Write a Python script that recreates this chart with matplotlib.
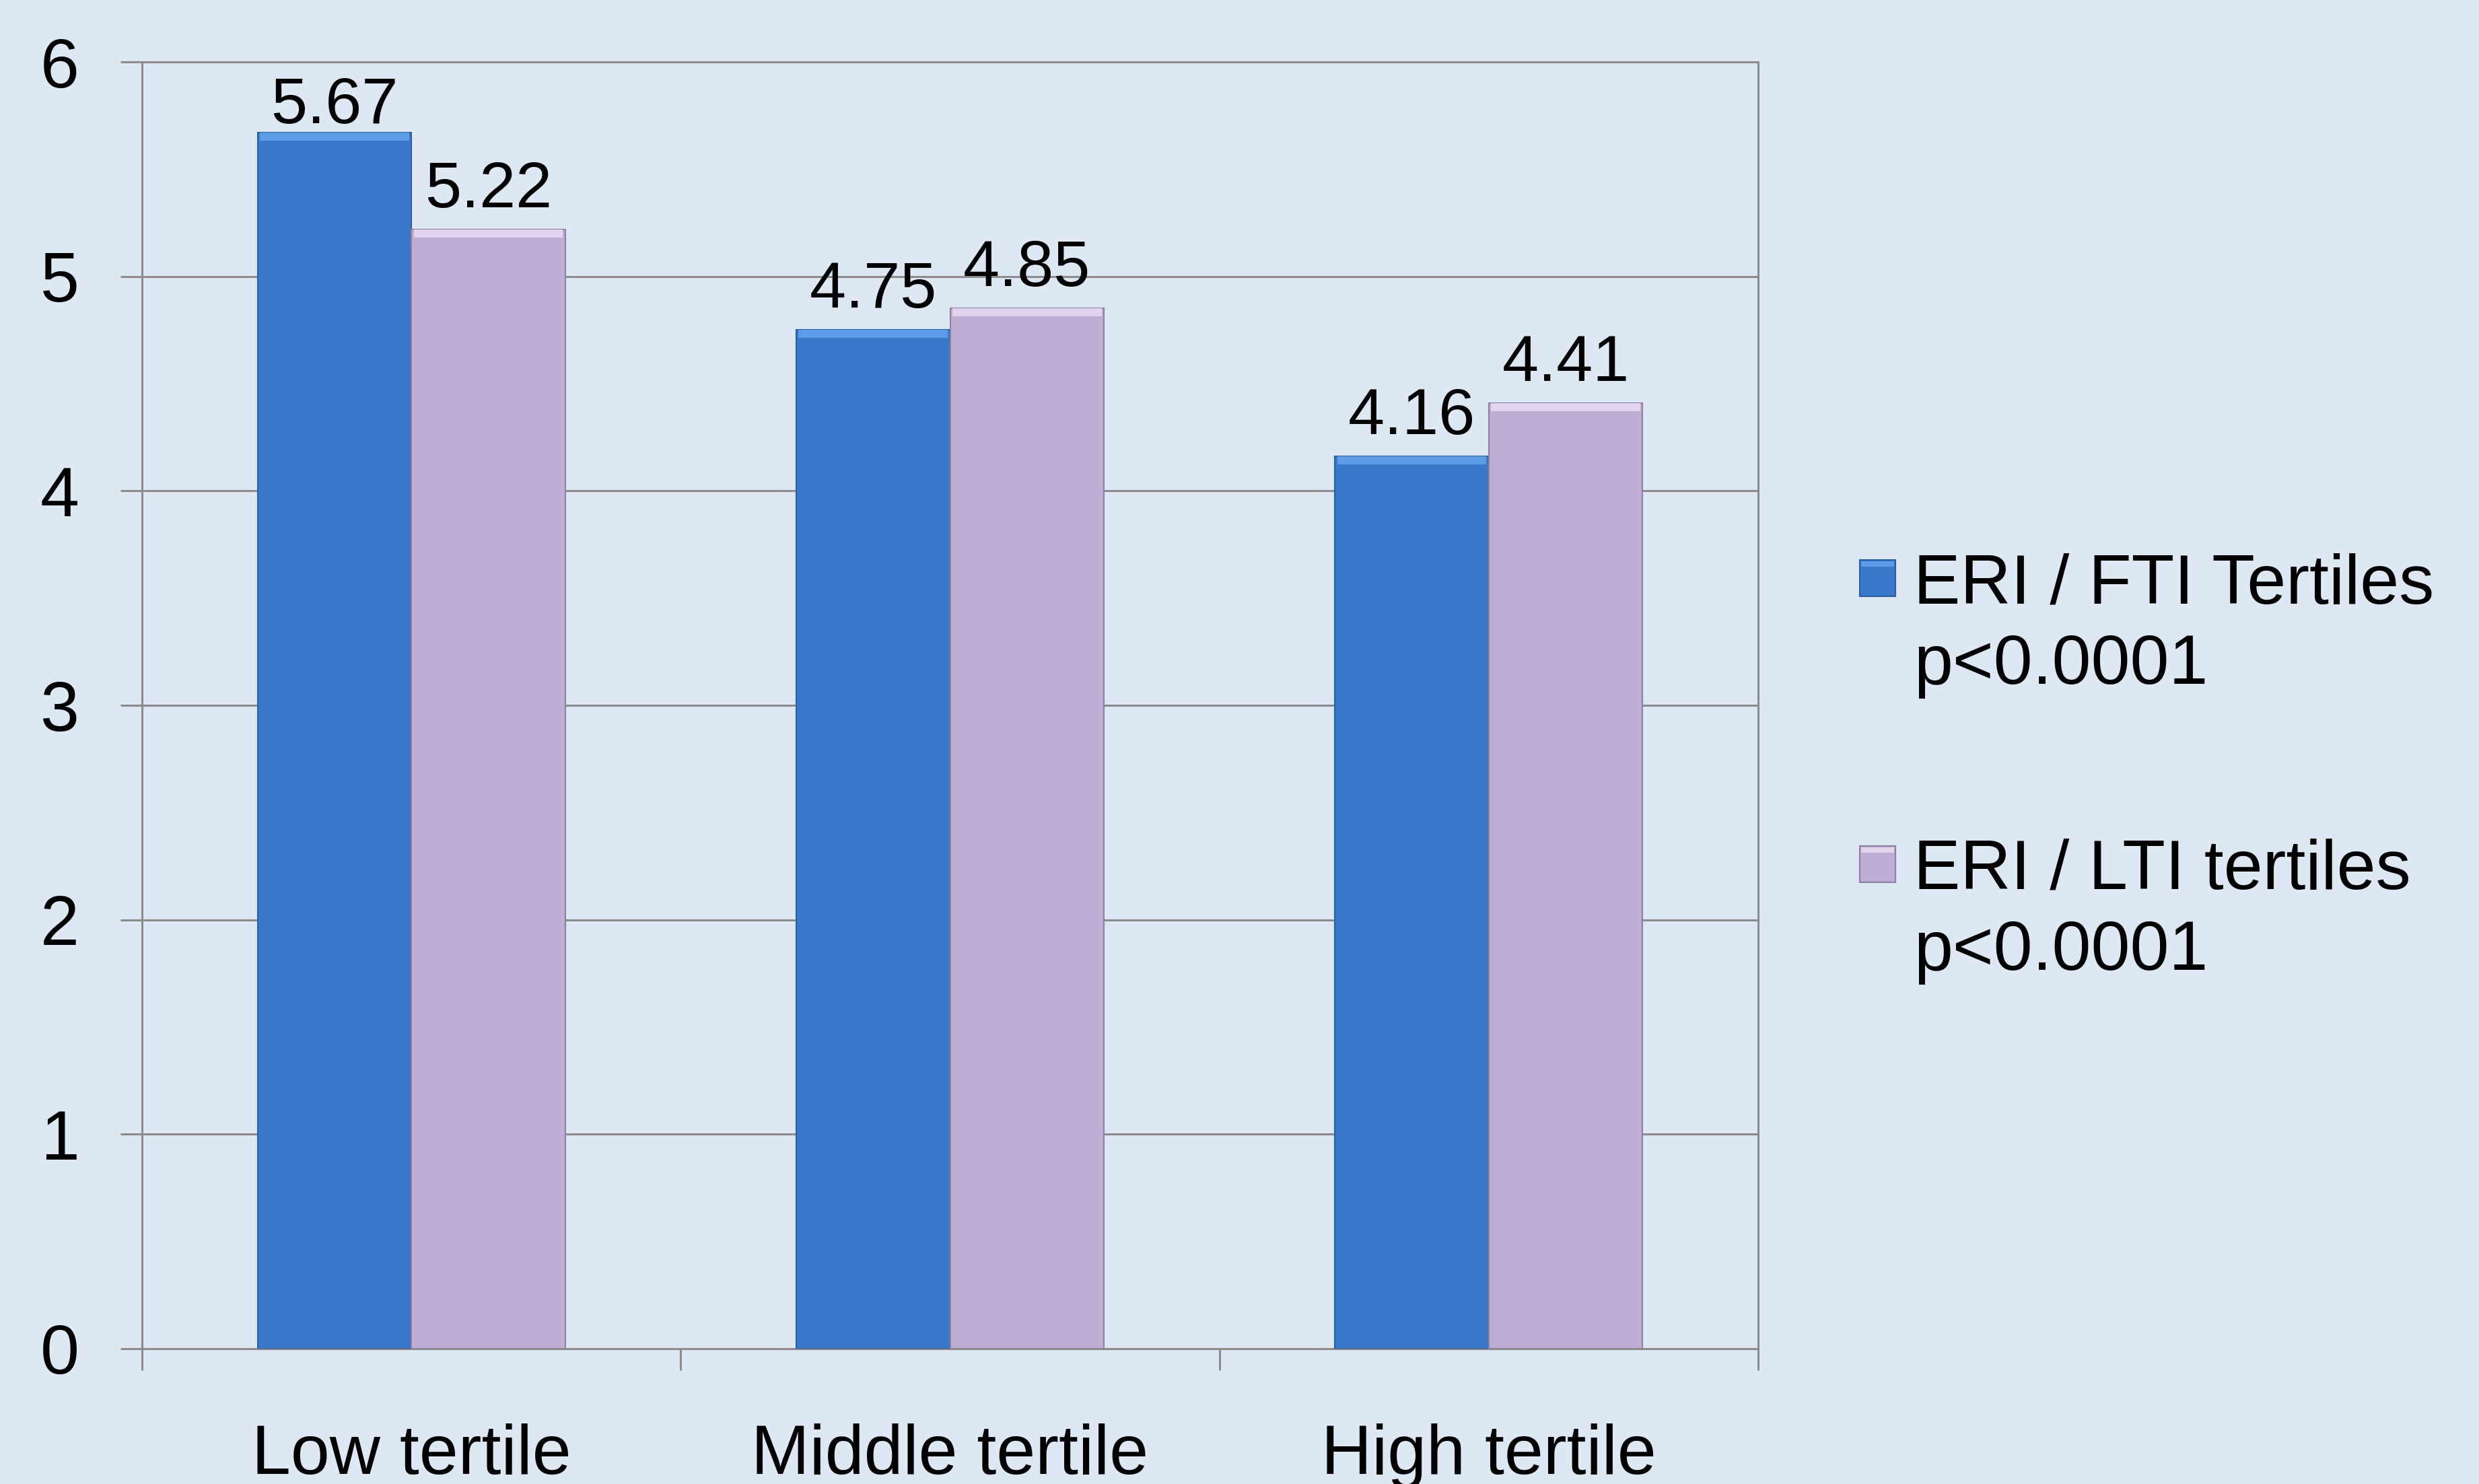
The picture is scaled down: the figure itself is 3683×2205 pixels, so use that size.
"""
Grouped bar chart: ERI / FTI vs ERI / LTI tertiles.
"""

import matplotlib
matplotlib.use("Agg")
import matplotlib.pyplot as plt
import matplotlib.patches as patches
import numpy as np

# Data
categories = ["Low tertile", "Middle tertile", "High tertile"]
fti_values = [5.67, 4.75, 4.16]
lti_values = [5.22, 4.85, 4.41]
series_labels = [("ERI / FTI Tertiles", "p<0.0001"), ("ERI / LTI tertiles", "p<0.0001")]
y_ticks = [0, 1, 2, 3, 4, 5, 6]

# Colours
BG_COLOR = "#dde8f4"
BLUE = "#3a78cb"
BLUE_EDGE = "#2d5e9e"
BLUE_HI = "#5d9be6"
PURPLE = "#beaed3"
PURPLE_EDGE = "#8f7fa3"
PURPLE_HI = "#e2d4ee"
GRID = "#8c8c8c"
FONT = "Liberation Sans"

W, H = 3683, 2205
DPI = 100

plt.rcParams["font.family"] = [FONT, "DejaVu Sans"]

fig = plt.figure(figsize=(W / DPI, H / DPI), dpi=DPI)
fig.patch.set_facecolor(BG_COLOR)
ax = fig.add_axes([211 / W, 1 - 2004 / H, (2612 - 211) / W, (2004 - 92) / H])
ax.set_facecolor(BG_COLOR)

ymax = 6
ax.set_xlim(-0.5, len(categories) - 0.5)
ax.set_ylim(0, ymax)
px_per_unit = (2004 - 92) / ymax

x = np.arange(len(categories))
bw = 1 / 3.5  # Excel style gap width 150%
hi = 12 / px_per_unit  # bevel highlight height

for offs, vals, face, edge, light in (
        (-bw / 2, fti_values, BLUE, BLUE_EDGE, BLUE_HI),
        (bw / 2, lti_values, PURPLE, PURPLE_EDGE, PURPLE_HI)):
    vals = np.array(vals)
    ax.bar(x + offs, vals, bw, color=face, edgecolor=edge, linewidth=1.5, zorder=3)
    ax.bar(x + offs, hi, bw * 0.97, bottom=vals - hi, color=light,
           linewidth=0, zorder=4)
    # Value labels, kept inside the plot area like Excel does
    for xi, v in zip(x + offs, vals):
        yb = min(v + 33 / px_per_unit, ymax - 91 / px_per_unit)
        ax.text(xi, yb, f"{v:.2f}", ha="center", va="baseline",
                fontsize=70, color="black", zorder=5)

# Gridlines
ax.set_yticks(y_ticks)
ax.yaxis.grid(True, color=GRID, linewidth=2.2, zorder=0)
ax.set_axisbelow(True)
ax.tick_params(axis="y", which="major", direction="out", length=23,
               width=2.2, color=GRID, labelsize=75, pad=44)

# Category boundaries as major ticks, labels on minor ticks
ax.set_xticks(np.arange(len(categories) + 1) - 0.5)
ax.set_xticklabels([])
ax.set_xticks(x, minor=True)
ax.set_xticklabels(categories, minor=True)
ax.tick_params(axis="x", which="major", direction="out", length=23,
               width=2.2, color=GRID)
ax.tick_params(axis="x", which="minor", length=0, labelsize=75, pad=80)

for side in ("left", "bottom", "right", "top"):
    ax.spines[side].set_color(GRID)
    ax.spines[side].set_linewidth(2.2)

# Legend drawn by hand so the marker lines up with the first text line
def px(xp, yp):
    return xp / W, 1 - yp / H

entries = [(BLUE, BLUE_EDGE, BLUE_HI, 896), (PURPLE, PURPLE_EDGE, PURPLE_HI, 1321)]
for (face, edge, light, base), (line1, line2) in zip(entries, series_labels):
    mx, my = px(2763, base - 10)
    fig.patches.append(patches.Rectangle(
        (mx, my), 53 / W, 54 / H, transform=fig.transFigure,
        facecolor=face, edgecolor=edge, linewidth=1.5))
    fig.patches.append(patches.Rectangle(
        (mx + 2 / W, my + 44 / H), 49 / W, 8 / H, transform=fig.transFigure,
        facecolor=light, linewidth=0))
    fig.text(*px(2843, base), line1, fontsize=75, va="baseline", ha="left")
    fig.text(*px(2843, base + 120), line2, fontsize=75, va="baseline", ha="left")

fig.savefig("out.png", dpi=DPI, facecolor=BG_COLOR)
plt.close(fig)
